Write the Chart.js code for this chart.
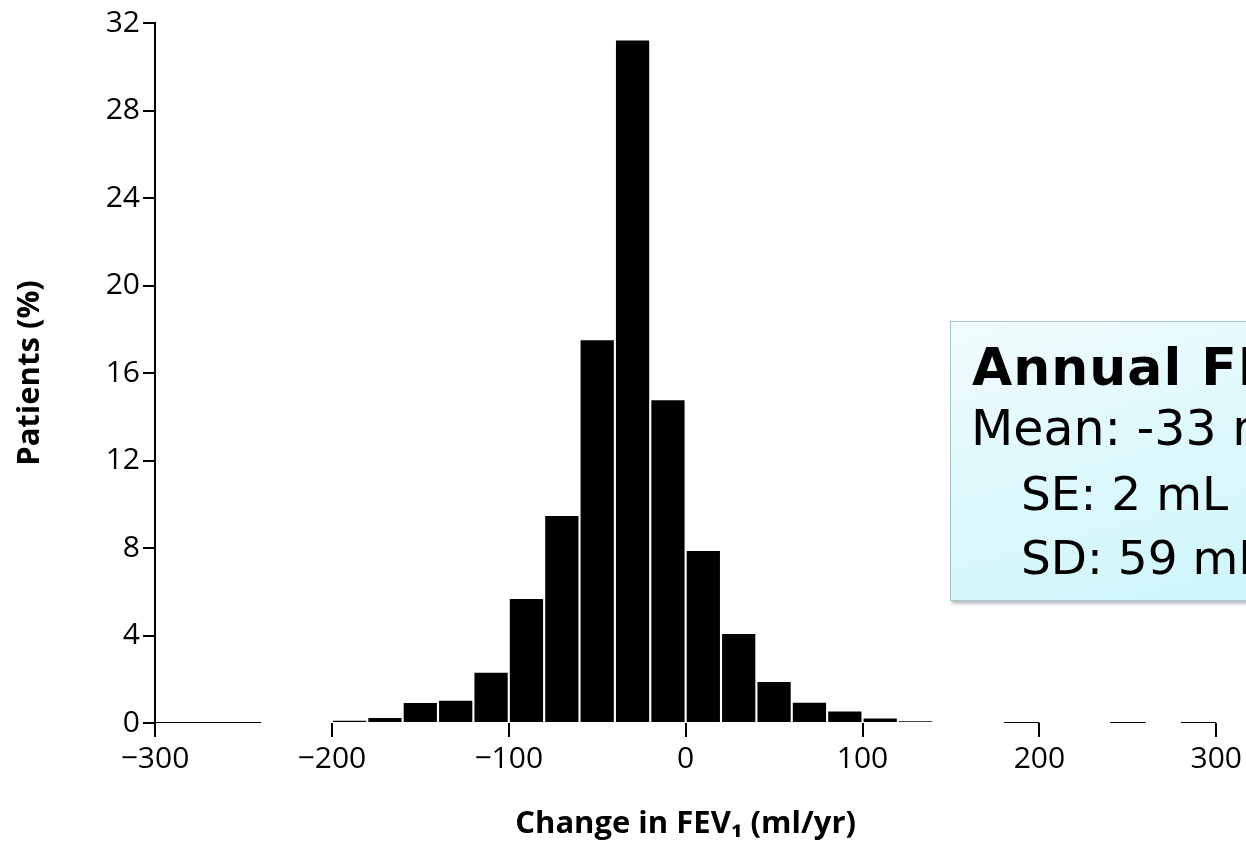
<!DOCTYPE html>
<html>
<head>
<meta charset="utf-8">
<script src="https://cdn.jsdelivr.net/npm/chart.js@4.4.1/dist/chart.umd.min.js"></script>
<style>
  html, body { margin: 0; padding: 0; background: #fff; overflow: hidden; }
  #wrap { position: relative; width: 1246px; height: 843px; overflow: hidden; }
  #histChart { position: absolute; left: 0; top: 0; }
  #statsBox {
    position: absolute; left: 950px; top: 321px; width: 420px; height: 278px;
    border: 1px solid #a3c7cf;
    background: linear-gradient(165deg, #f1fcfd 0%, #dcf8fc 50%, #cbf5fb 100%);
    box-shadow: 2px 3px 3px rgba(0,0,0,0.25);
    font-family: "DejaVu Sans", Verdana, sans-serif; color: #000;
    white-space: nowrap;
  }
  #statsBox div { position: absolute; line-height: 1; }
  #statsBox .ttl { left: 21px; top: 19px; font-weight: bold; font-size: 52px; letter-spacing: 1px; }
  #statsBox .ln { font-size: 49px; }
  #statsBox .sm { font-size: 47px; }
</style>
</head>
<body>
<div id="wrap">
  <canvas id="histChart" width="1246" height="843"></canvas>
  <div id="statsBox">
    <div class="ttl">Annual FEV<sub style="font-size:60%">1</sub> decline</div>
    <div class="ln" style="left:20px; top:82px;">Mean: -33 mL/yr</div>
    <div class="ln sm" style="left:70px; top:148px;">SE: 2 mL</div>
    <div class="ln sm" style="left:70px; top:212px;">SD: 59 mL</div>
  </div>
</div>
<script>
// histogram bins (ml/yr), 20 ml wide
const binStarts = [-200, -180, -160, -140, -120, -100, -80, -60, -40, -20, 0, 20, 40, 60, 80, 100, 120];
const patientsPct = [0.1, 0.23, 0.91, 1.02, 2.3, 5.67, 9.46, 17.5, 31.2, 14.75, 7.86, 4.07, 1.88, 0.93, 0.53, 0.21, 0.08];
const binWidth = 20;

// pieces of the x baseline drawn outside the bars
const baselinePieces = [[-300, -240], [180, 200], [240, 260], [280, 300]];

const xTicks = [-300, -200, -100, 0, 100, 200, 300];
const yTicks = [0, 4, 8, 12, 16, 20, 24, 28, 32];

const barData = binStarts.map((s, i) => ({ x: s + binWidth / 2, y: patientsPct[i] }));
const lineData = [];
baselinePieces.forEach(p => {
    lineData.push({ x: p[0], y: 0 }, { x: p[1], y: 0 }, { x: p[1], y: null });
});

const tickFont = { family: '"Open Sans", Lato, sans-serif', size: 30 };
const titleFont = { family: '"Open Sans", Lato, sans-serif', size: 31, weight: 'bold' };

const ctx = document.getElementById('histChart').getContext('2d');
const histChart = new Chart(ctx, {
    type: 'bar',
    data: {
        datasets: [{
            type: 'line',
            data: lineData,
            borderColor: '#000',
            borderWidth: 2,
            pointRadius: 0,
            spanGaps: false,
            order: 0
        }, {
            type: 'bar',
            data: barData,
            backgroundColor: '#000',
            borderWidth: 0,
            barPercentage: 0.94,
            categoryPercentage: 1,
            order: 1
        }]
    },
    options: {
        responsive: false,
        animation: false,
        layout: { padding: { left: 0, right: 27, top: 23, bottom: 0 } },
        plugins: { legend: { display: false }, tooltip: { enabled: false } },
        scales: {
            x: {
                type: 'linear',
                offset: false,
                min: -300,
                max: 300,
                afterBuildTicks: s => { s.ticks = xTicks.map(v => ({ value: v })); },
                afterFit: s => { s.height = 120; },
                ticks: {
                    color: '#000',
                    font: tickFont,
                    padding: 4,
                    maxRotation: 0,
                    callback: v => (v < 0 ? '\u2212' + Math.abs(v) : String(v))
                },
                grid: { display: true, offset: false, drawOnChartArea: false, drawTicks: true, tickLength: 14, color: '#000', lineWidth: 2 },
                border: { display: false },
                title: { display: true, text: 'Change in FEV\u2081 (ml/yr)', color: '#000', font: titleFont, padding: { top: 0, bottom: 0 } }
            },
            y: {
                min: 0,
                max: 32,
                afterBuildTicks: s => { s.ticks = yTicks.map(v => ({ value: v })); },
                afterFit: s => { s.width = 155; },
                ticks: { color: '#000', font: tickFont, padding: 3 },
                grid: { display: true, drawOnChartArea: false, drawTicks: true, tickLength: 12, color: '#000', lineWidth: 2 },
                border: { display: true, color: '#000', width: 2 },
                title: { display: true, text: 'Patients (%)', color: '#000', font: titleFont, padding: { top: 12, bottom: 0 } }
            }
        }
    }
});
</script>
</body>
</html>
